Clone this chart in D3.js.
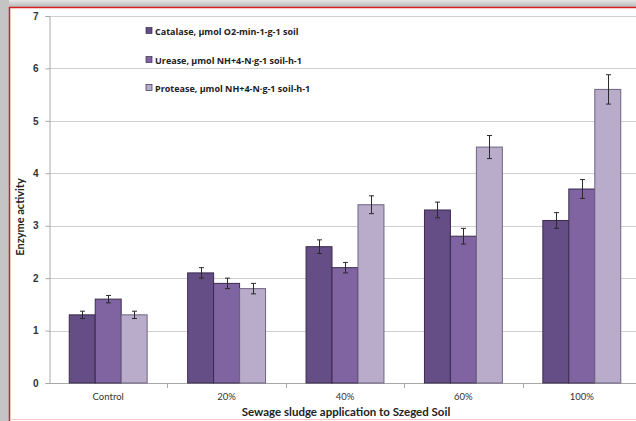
<!DOCTYPE html>
<html>
<head>
<meta charset="utf-8">
<script src="https://cdn.jsdelivr.net/npm/d3@7"></script>
<style>
  body { margin: 0; background: #fff; overflow: hidden; }
  svg { display: block; font-family: Lato, "Open Sans", sans-serif; }
</style>
</head>
<body>
<svg></svg>
<script>
// data
var categories = ["Control", "20%", "40%", "60%", "100%"];
var seriesNames = [
  "Catalase, µmol O2-min-1-g-1 soil",
  "Urease, µmol NH+4-N·g-1 soil-h-1",
  "Protease, µmol NH+4-N·g-1 soil-h-1"
];
var catalase = [1.3, 2.1, 2.6, 3.3, 3.1];
var urease   = [1.6, 1.9, 2.2, 2.8, 3.7];
var protease = [1.3, 1.8, 3.4, 4.5, 5.6];
var catalaseErr = [0.07, 0.1, 0.13, 0.15, 0.15];
var ureaseErr   = [0.07, 0.1, 0.1, 0.15, 0.18];
var proteaseErr = [0.07, 0.1, 0.17, 0.22, 0.28];
var yTicks = [0, 1, 2, 3, 4, 5, 6, 7];

var colors = ["#654d85", "#8064a2", "#b8acca"];

var width = 636, height = 421;
var margin = { top: 16, left: 49, bottom: 38 };

var svg = d3.select("svg")
    .attr("width", width)
    .attr("height", height);

// frame: grey shadow + red border like the screenshot
var shadow = svg.append("defs").append("linearGradient")
    .attr("id", "shTop").attr("x1", 0).attr("y1", 0).attr("x2", 0).attr("y2", 1);
shadow.append("stop").attr("offset", 0).attr("stop-color", "#e6e6e6");
shadow.append("stop").attr("offset", 1).attr("stop-color", "#b8b8b8");
svg.append("rect").attr("x", 0).attr("y", 0).attr("width", width).attr("height", 7).attr("fill", "url(#shTop)");
svg.append("rect").attr("x", 0).attr("y", 0).attr("width", 9).attr("height", height).attr("fill", "#c4c4c4");
svg.append("line").attr("x1", 9).attr("x2", width).attr("y1", 7.5).attr("y2", 7.5)
    .attr("stroke", "#d42020").attr("stroke-width", 1.5);
svg.append("line").attr("x1", 9.5).attr("x2", 9.5).attr("y1", 7).attr("y2", height)
    .attr("stroke", "#d42020").attr("stroke-width", 1.5);
svg.append("line").attr("x1", 10).attr("x2", width).attr("y1", 419.5).attr("y2", 419.5)
    .attr("stroke", "#f4c8c8").attr("stroke-width", 1);

var y = d3.scaleLinear().domain([0, 7]).range([383, margin.top]);

var x0 = d3.scaleBand()
    .domain(categories)
    .range([margin.left, margin.left + 5 * 118.4]);

var x1 = d3.scaleBand()
    .domain([0, 1, 2])
    .range([0, x0.bandwidth()])
    .paddingOuter(0.78);

// gridlines
svg.append("g")
    .selectAll("line")
    .data(yTicks.slice(1))
    .join("line")
    .attr("x1", margin.left).attr("x2", width)
    .attr("y1", function(d) { return Math.round(y(d)) + 0.5; })
    .attr("y2", function(d) { return Math.round(y(d)) + 0.5; })
    .attr("stroke", "#cfcfcf");

// y axis
var yAxis = d3.axisLeft(y).tickValues(yTicks).tickFormat(d3.format("d")).tickSize(4).tickPadding(7);
var gy = svg.append("g")
    .attr("transform", "translate(" + (margin.left + 0.5) + ",0)")
    .call(yAxis);
gy.select(".domain").attr("stroke", "#a8a8a8");
gy.selectAll(".tick line").attr("stroke", "#a8a8a8");
gy.selectAll("text").attr("font-size", 10).attr("font-weight", "bold").attr("fill", "#333");

// x axis (ticks between categories)
var xAxisLine = svg.append("g");
xAxisLine.append("line")
    .attr("x1", margin.left).attr("x2", width)
    .attr("y1", 383.5).attr("y2", 383.5)
    .attr("stroke", "#a8a8a8");
xAxisLine.selectAll(".sep")
    .data(categories.slice(0, 4))
    .join("line")
    .attr("class", "sep")
    .attr("x1", function(d) { return Math.round(x0(d) + x0.bandwidth()) + 0.5; })
    .attr("x2", function(d) { return Math.round(x0(d) + x0.bandwidth()) + 0.5; })
    .attr("y1", 383).attr("y2", 388)
    .attr("stroke", "#a8a8a8");
xAxisLine.selectAll(".lbl")
    .data(categories)
    .join("text")
    .attr("class", "lbl")
    .attr("x", function(d) { return x0(d) + x0.bandwidth() / 2; })
    .attr("y", 400)
    .attr("text-anchor", "middle")
    .attr("font-size", 9.5)
    .attr("fill", "#333")
    .text(function(d) { return d; });

// bars
var values = [catalase, urease, protease];
var errs = [catalaseErr, ureaseErr, proteaseErr];
var rows = [];
categories.forEach(function(c, i) {
  values.forEach(function(v, s) {
    rows.push({ cat: c, s: s, v: v[i], e: errs[s][i] });
  });
});

svg.append("g")
    .selectAll("rect")
    .data(rows)
    .join("rect")
    .attr("x", function(d) { return x0(d.cat) + x1(d.s); })
    .attr("y", function(d) { return y(d.v); })
    .attr("width", x1.bandwidth())
    .attr("height", function(d) { return y(0) - y(d.v); })
    .attr("fill", function(d) { return colors[d.s]; })
    .attr("stroke", function(d) { return d.s == 2 ? "#6e6480" : "#3a2c4e"; })
    .attr("stroke-width", 1);

// error bars
var eb = svg.append("g").attr("stroke", "#2a2a2a").attr("stroke-width", 1);
rows.forEach(function(d) {
  var cx = Math.round(x0(d.cat) + x1(d.s) + x1.bandwidth() / 2) + 0.5;
  eb.append("line").attr("x1", cx).attr("x2", cx).attr("y1", y(d.v + d.e)).attr("y2", y(d.v - d.e));
  eb.append("line").attr("x1", cx - 2.5).attr("x2", cx + 2.5).attr("y1", y(d.v + d.e)).attr("y2", y(d.v + d.e));
  eb.append("line").attr("x1", cx - 2.5).attr("x2", cx + 2.5).attr("y1", y(d.v - d.e)).attr("y2", y(d.v - d.e));
});

// axis titles
svg.append("text")
    .attr("x", 346).attr("y", 416)
    .attr("text-anchor", "middle")
    .attr("font-size", 11.5).attr("font-weight", "bold").attr("fill", "#222")
    .text("Sewage sludge application to Szeged Soil");

svg.append("text")
    .attr("transform", "translate(24,217) rotate(-90)")
    .attr("text-anchor", "middle")
    .attr("font-size", 11).attr("font-weight", "bold").attr("fill", "#222")
    .text("Enzyme activity");

// legend
var legend = svg.append("g")
    .selectAll("g")
    .data(seriesNames)
    .join("g")
    .attr("transform", function(d, i) { return "translate(146," + [31, 60, 88][i] + ")"; });
legend.append("rect")
    .attr("x", 0).attr("y", -3.5).attr("width", 6).attr("height", 6)
    .attr("fill", function(d, i) { return colors[i]; })
    .attr("stroke", "#3a2c4e").attr("stroke-width", 0.7);
legend.append("text")
    .attr("x", 9).attr("y", 3.5)
    .attr("font-family", "'Open Sans', sans-serif")
    .attr("font-size", 9).attr("font-weight", "bold").attr("fill", "#222")
    .text(function(d) { return d; });
</script>
</body>
</html>
